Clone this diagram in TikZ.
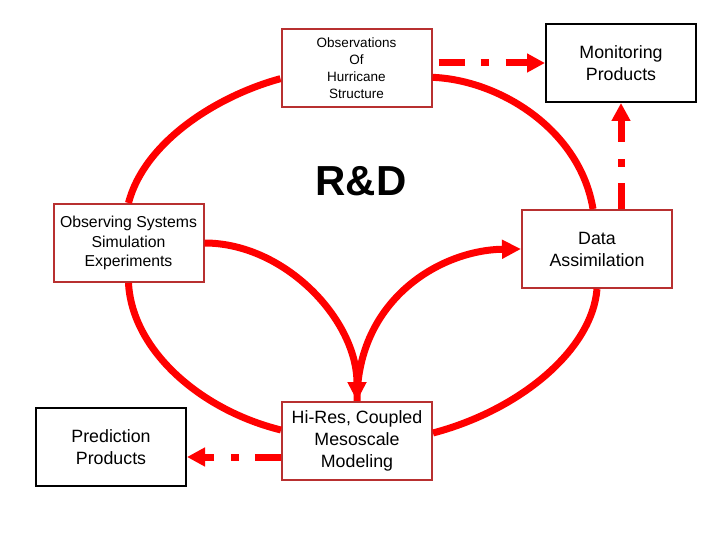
\documentclass[tikz,border=0pt]{standalone}
\usepackage{fontspec}
\setmainfont{Liberation Sans}
\usetikzlibrary{arrows.meta}

\definecolor{boxred}{RGB}{184,48,48}
\definecolor{loopred}{RGB}{255,0,0}

\tikzset{
  redbox/.style={draw=boxred,line width=2pt,fill=white,minimum width=150pt,minimum height=78pt,inner sep=0pt,align=center},
  blackbox/.style={draw=black,line width=2pt,fill=white,minimum width=150pt,minimum height=78pt,inner sep=0pt,align=center},
  loopline/.style={draw=loopred,line width=7pt},
  looparrow/.style={loopline,-{Triangle[length=19pt,width=18pt]}},
  dashline/.style={draw=loopred,line width=7pt,dash pattern=on 26pt off 16pt on 8pt off 17pt,-{Triangle[length=18pt,width=18pt]}}
}

\begin{document}
\begin{tikzpicture}[x=1pt,y=1pt,yscale=-1,xscale=1]
    \useasboundingbox (0,0) rectangle (720,540); %set diagram at 720 x 540

    %Shape: Rectangle [obs]
    \node [redbox,font=\fontsize{13.5}{17}\selectfont] (obs) at (356.5,68) {Observations\\Of\\Hurricane\\Structure};
    %Shape: Rectangle [mon]
    \node [blackbox,font=\fontsize{17.8}{22}\selectfont] (mon) at (621,63) {Monitoring\\Products};
    %Shape: Rectangle [oss]
    \node [redbox,font=\fontsize{15.8}{19.5}\selectfont] (oss) at (128.5,243) {Observing Systems\\Simulation\\Experiments};
    %Shape: Rectangle [da]
    \node [redbox,font=\fontsize{17.8}{22}\selectfont] (da) at (597,249) {Data\\Assimilation};
    %Shape: Rectangle [pred]
    \node [blackbox,font=\fontsize{17.8}{22}\selectfont] (pred) at (111,447) {Prediction\\Products};
    %Shape: Rectangle [hires]
    \node [redbox,font=\fontsize{17.8}{22}\selectfont] (hires) at (357,441) {Hi-Res, Coupled\\Mesoscale\\Modeling};

    % Text Node
    \node [font=\fontsize{42}{42}\selectfont\bfseries] (rd) at (361,181) {R\&D};

    %Curve Lines [outer loop]
    \draw [loopline] (obs.188) .. controls (220,95) and (145,140) .. (oss.north);
    \draw [loopline] (obs.353) .. controls (500,80) and (580,130) .. ([xshift=-4pt]da.north);
    \draw [loopline] (da.south) .. controls (592,350) and (520,410) .. ([yshift=-8pt]hires.east);
    \draw [loopline] (oss.south) .. controls (132,350) and (200,410) .. ([yshift=-11pt]hires.west);

    %Curve Lines [inner arrows]
    \draw [looparrow] (oss.east) .. controls (285,243) and (357,320) .. (hires.north);
    \draw [looparrow] (hires.north) .. controls (357,300) and (440,250) .. (da.west);

    %Dash-dot Arrows
    \draw [dashline,shorten <=6pt] (obs.east |- mon.west) -- (mon.west);
    \draw [dashline] (da.north -| mon.south) -- (mon.south);
    \draw [dashline] ([yshift=16pt]hires.west) coordinate (hw) -- (pred.east |- hw);

\end{tikzpicture}
\end{document}
